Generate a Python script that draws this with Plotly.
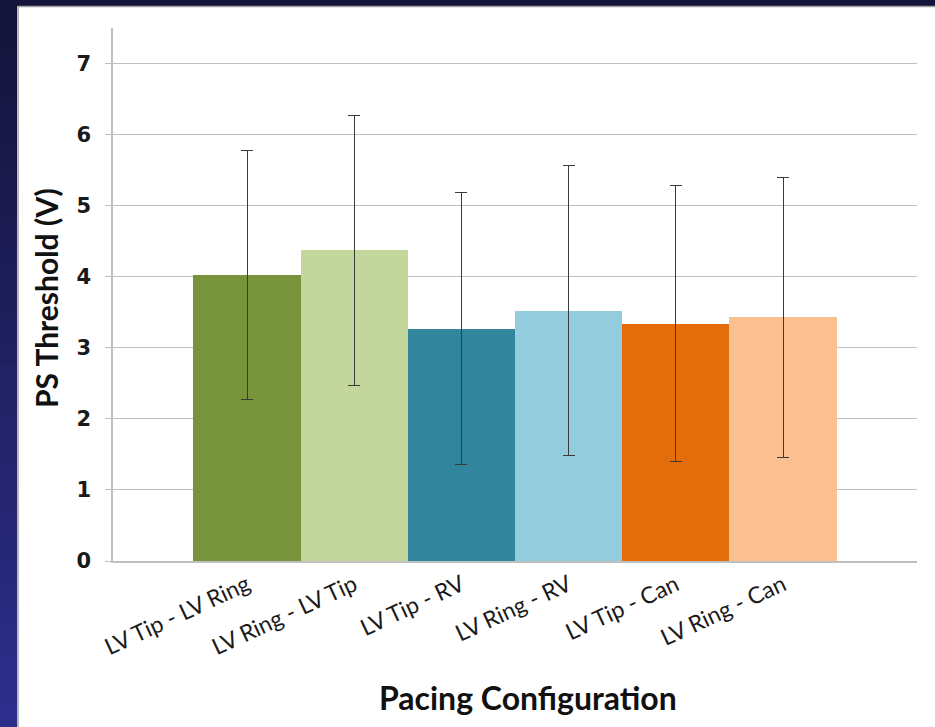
import plotly.graph_objects as go

categories = ["LV Tip - LV Ring", "LV Ring - LV Tip", "LV Tip - RV", "LV Ring - RV", "LV Tip - Can", "LV Ring - Can"]
thresholds = [4.02, 4.37, 3.27, 3.52, 3.34, 3.43]
errors = [1.75, 1.90, 1.91, 2.04, 1.94, 1.97]
bar_colors = ["#77933C", "#C3D69B", "#31859C", "#93CDDD", "#E46C0A", "#FAC090"]
y_ticks = [0, 1, 2, 3, 4, 5, 6, 7]

W, H = 935, 727
ML, MR, MT, MB = 113, 18, 28, 166
PW, PH = W - ML - MR, H - MT - MB

def px_x(p):
    return (p - ML) / PW

def px_y(p):
    return 1 - (p - MT) / PH

fig = go.Figure()
fig.add_trace(go.Bar(
    x=list(range(len(categories))),
    y=thresholds,
    width=1.0,
    marker=dict(color=bar_colors, line=dict(width=0)),
    error_y=dict(type="data", array=errors, visible=True, color="#3a3a3a", thickness=1, width=6),
    showlegend=False,
))

shapes = []
# slide background (dark gradient strip on the left, top strip)
n = 30
for i in range(n):
    t = i / (n - 1)
    r = int(0x14 + (0x2e - 0x14) * t)
    g = int(0x14 + (0x2e - 0x14) * t)
    b = int(0x3a + (0x8c - 0x3a) * t)
    y0 = H * i / n
    y1 = H * (i + 1) / n + 1
    shapes.append(dict(type="rect", xref="paper", yref="paper",
                       x0=px_x(0), x1=px_x(17), y0=px_y(y1), y1=px_y(y0),
                       fillcolor=f"rgb({r},{g},{b})", line=dict(width=0), layer="above"))
shapes.append(dict(type="rect", xref="paper", yref="paper",
                   x0=px_x(0), x1=px_x(W), y0=px_y(6), y1=px_y(0),
                   fillcolor="#14143a", line=dict(width=0), layer="above"))
shapes.append(dict(type="line", xref="paper", yref="paper",
                   x0=px_x(18), x1=px_x(W), y0=px_y(6.5), y1=px_y(6.5),
                   line=dict(color="#a0a0a0", width=1.5), layer="above"))
shapes.append(dict(type="line", xref="paper", yref="paper",
                   x0=px_x(18), x1=px_x(18), y0=px_y(6), y1=px_y(H),
                   line=dict(color="#a0a0a0", width=1.5), layer="above"))

fig.update_layout(
    width=W, height=H,
    margin=dict(l=ML, r=MR, t=MT, b=MB),
    paper_bgcolor="white", plot_bgcolor="white",
    bargap=0,
    shapes=shapes,
    xaxis=dict(
        range=[-1.25, 6.25],
        tickvals=list(range(len(categories))),
        ticktext=categories,
        tickangle=-25,
        tickfont=dict(family="Lato, Open Sans, sans-serif", size=23, color="#1a1a1a"),
        showgrid=False, zeroline=False,
        showline=True, linecolor="#bfbfbf", linewidth=1.5,
        ticks="",
    ),
    yaxis=dict(
        range=[0, 7.5],
        tickvals=y_ticks,
        tickfont=dict(family="DejaVu Sans, sans-serif", size=21, color="#1a1a1a", weight="bold"),
        showgrid=True, gridcolor="#bfbfbf", gridwidth=1,
        zeroline=False,
        showline=True, linecolor="#bfbfbf", linewidth=1.5,
        ticks="outside", ticklen=6, tickcolor="#bfbfbf",
        ticklabelstandoff=10,
    ),
    annotations=[
        dict(text="<b>PS Threshold (V)</b>", xref="paper", yref="paper",
             x=px_x(46), y=px_y(298), textangle=-90, showarrow=False,
             font=dict(family="Lato, Open Sans, sans-serif", size=30, color="#111111"),
             xanchor="center", yanchor="middle"),
        dict(text="<b>Pacing Configuration</b>", xref="paper", yref="paper",
             x=px_x(528), y=px_y(697), showarrow=False,
             font=dict(family="Lato, Open Sans, sans-serif", size=32, color="#111111"),
             xanchor="center", yanchor="middle"),
    ],
)

fig.write_html("out.html", config={"displayModeBar": False},
               post_script="document.body.style.margin='0';document.body.style.overflow='hidden';")
